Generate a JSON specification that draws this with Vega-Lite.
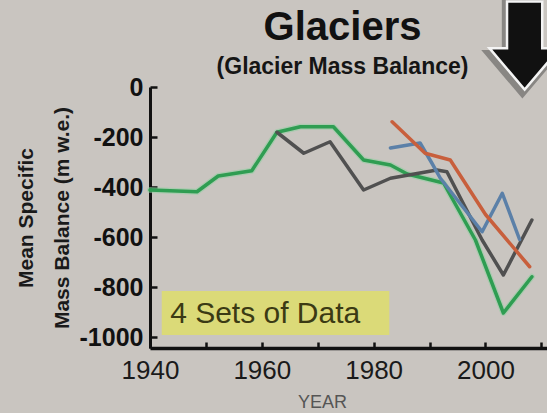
{
  "$schema": "https://vega.github.io/schema/vega-lite/v6.json",
  "width": 397,
  "height": 261,
  "autosize": "none",
  "padding": {"left": 150, "top": 87, "right": 0, "bottom": 65},
  "background": "#c9c5c0",
  "view": {"stroke": null},
  "config": {"font": "Liberation Sans"},
  "title": {
    "text": "Glaciers",
    "subtitle": "(Glacier Mass Balance)",
    "font": "Liberation Sans",
    "fontSize": 40,
    "fontWeight": "bold",
    "color": "#111111",
    "subtitleFont": "Liberation Sans",
    "subtitleFontSize": 23,
    "subtitleFontWeight": "bold",
    "subtitleColor": "#151515",
    "subtitlePadding": 8,
    "anchor": "middle",
    "frame": "group",
    "offset": -83.5,
    "dx": -6
  },
  "datasets": {
    "lines": [
      {"series": "green", "year": 1940.0, "value": -412},
      {"series": "green", "year": 1948.4, "value": -419},
      {"series": "green", "year": 1952.2, "value": -356},
      {"series": "green", "year": 1958.2, "value": -335},
      {"series": "green", "year": 1962.7, "value": -181},
      {"series": "green", "year": 1966.9, "value": -159},
      {"series": "green", "year": 1972.8, "value": -159},
      {"series": "green", "year": 1978.2, "value": -292},
      {"series": "green", "year": 1983.0, "value": -312},
      {"series": "green", "year": 1986.0, "value": -348},
      {"series": "green", "year": 1992.5, "value": -384},
      {"series": "green", "year": 1998.2, "value": -612},
      {"series": "green", "year": 2003.2, "value": -904},
      {"series": "green", "year": 2008.3, "value": -759},
      {"series": "gray", "year": 1962.7, "value": -181},
      {"series": "gray", "year": 1967.5, "value": -265},
      {"series": "gray", "year": 1972.2, "value": -219},
      {"series": "gray", "year": 1978.2, "value": -412},
      {"series": "gray", "year": 1983.0, "value": -365},
      {"series": "gray", "year": 1991.3, "value": -332},
      {"series": "gray", "year": 1993.1, "value": -339},
      {"series": "gray", "year": 1999.4, "value": -612},
      {"series": "gray", "year": 2003.2, "value": -752},
      {"series": "gray", "year": 2008.3, "value": -532},
      {"series": "blue", "year": 1983.0, "value": -244},
      {"series": "blue", "year": 1988.3, "value": -224},
      {"series": "blue", "year": 1990.4, "value": -304},
      {"series": "blue", "year": 1991.9, "value": -364},
      {"series": "blue", "year": 1999.4, "value": -579},
      {"series": "blue", "year": 2003.0, "value": -425},
      {"series": "blue", "year": 2006.1, "value": -610},
      {"series": "red", "year": 1983.3, "value": -139},
      {"series": "red", "year": 1989.2, "value": -265},
      {"series": "red", "year": 1993.7, "value": -292},
      {"series": "red", "year": 2000.0, "value": -510},
      {"series": "red", "year": 2007.9, "value": -719}
    ]
  },
  "layer": [
    {
      "data": {"values": [{"year": 1942.1, "year2": 1982.8, "value": -816, "value2": -992}]},
      "mark": {"type": "rect", "color": "#dcdb72", "opacity": 0.92},
      "encoding": {
        "x": {"field": "year", "type": "quantitative", "scale": {"domain": [1940, 2011], "nice": false, "zero": false}},
        "x2": {"field": "year2"},
        "y": {"field": "value", "type": "quantitative", "scale": {"domain": [-1044, 0], "nice": false, "zero": false}},
        "y2": {"field": "value2"}
      }
    },
    {
      "data": {"values": [{"year": 1943.6, "value": -944, "label": "4 Sets of Data"}]},
      "mark": {"type": "text", "align": "left", "baseline": "alphabetic", "fontSize": 30, "font": "Liberation Sans", "color": "#3b3a14"},
      "encoding": {
        "x": {"field": "year", "type": "quantitative", "scale": {"domain": [1940, 2011], "nice": false, "zero": false}},
        "y": {"field": "value", "type": "quantitative", "scale": {"domain": [-1044, 0], "nice": false, "zero": false}},
        "text": {"field": "label"}
      }
    },
    {
      "data": {"name": "lines"},
      "transform": [{"filter": "datum.series === 'green'"}],
      "mark": {"type": "line", "strokeWidth": 6, "strokeJoin": "round", "strokeCap": "round", "color": "#8fd0a0", "opacity": 0.55},
      "encoding": {
        "x": {"field": "year", "type": "quantitative", "scale": {"domain": [1940, 2011], "nice": false, "zero": false}},
        "y": {"field": "value", "type": "quantitative", "scale": {"domain": [-1044, 0], "nice": false, "zero": false}}
      }
    },
    {
      "data": {"name": "lines"},
      "mark": {"type": "line", "strokeWidth": 3.5, "strokeJoin": "round", "strokeCap": "round"},
      "encoding": {
        "x": {
          "field": "year", "type": "quantitative",
          "scale": {"domain": [1940, 2011], "nice": false, "zero": false},
          "axis": {
            "title": "YEAR",
            "titleFont": "Liberation Sans", "titleFontSize": 18, "titleFontWeight": "normal", "titleColor": "#555555",
            "titleX": 172, "titleY": 59, "titleBaseline": "alphabetic", "titleAnchor": "start", "titleAlign": "center",
            "values": [1940, 1950, 1960, 1970, 1980, 1990, 2000, 2010],
            "labelExpr": "datum.value % 20 === 0 ? format(datum.value, 'd') : ''",
            "labelFont": "Liberation Sans", "labelFontSize": 26, "labelColor": "#1a1a1a",
            "labelFlush": false, "labelOverlap": false, "labelPadding": 15,
            "grid": false,
            "domainColor": "#111111", "domainWidth": 3.5,
            "tickColor": "#111111", "tickWidth": 2.5, "tickSize": -6
          }
        },
        "y": {
          "field": "value", "type": "quantitative",
          "scale": {"domain": [-1044, 0], "nice": false, "zero": false},
          "axis": {
            "title": ["Mean Specific", "Mass Balance (m w.e.)"],
            "titleFont": "Liberation Sans", "titleFontSize": 21, "titleFontWeight": "bold", "titleColor": "#1a1a1a",
            "titleLineHeight": 36, "titlePadding": 7,
            "values": [0, -200, -400, -600, -800, -1000],
            "labelExpr": "replace(format(datum.value, 'd'), '\u2212', '-')",
            "labelFont": "Liberation Sans", "labelFontSize": 25, "labelFontWeight": "bold", "labelColor": "#111111",
            "labelPadding": 14, "labelOverlap": false, "labelFlush": false,
            "grid": false,
            "domainColor": "#111111", "domainWidth": 3,
            "tickColor": "#111111", "tickWidth": 2.5, "tickSize": -7
          }
        },
        "color": {
          "field": "series", "type": "nominal",
          "scale": {"domain": ["green", "gray", "blue", "red"], "range": ["#2f9d52", "#505050", "#5b80a8", "#c85f3c"]},
          "legend": null
        }
      }
    },
    {
      "data": {"values": [{"year": 2006.6, "value": 160}]},
      "mark": {"type": "point", "filled": true, "shape": "M-0.4,-1 L0.4,-1 L0.4,0.06 L0.8,0.06 L0,1 L-0.8,0.06 L-0.4,0.06 Z", "size": 10600, "color": "#3a3a3a", "opacity": 0.45, "strokeWidth": 0},
      "encoding": {
        "x": {"field": "year", "type": "quantitative", "scale": {"domain": [1940, 2011], "nice": false, "zero": false}},
        "y": {"field": "value", "type": "quantitative", "scale": {"domain": [-1044, 0], "nice": false, "zero": false}}
      }
    },
    {
      "data": {"values": [{"year": 2007.0, "value": 166}]},
      "mark": {"type": "point", "filled": true, "shape": "M-0.4,-1 L0.4,-1 L0.4,0.06 L0.8,0.06 L0,1 L-0.8,0.06 L-0.4,0.06 Z", "size": 7744, "fill": "#111111", "fillOpacity": 1, "stroke": "#f4f4f4", "strokeWidth": 2.5, "opacity": 1},
      "encoding": {
        "x": {"field": "year", "type": "quantitative", "scale": {"domain": [1940, 2011], "nice": false, "zero": false}},
        "y": {"field": "value", "type": "quantitative", "scale": {"domain": [-1044, 0], "nice": false, "zero": false}}
      }
    }
  ]
}
